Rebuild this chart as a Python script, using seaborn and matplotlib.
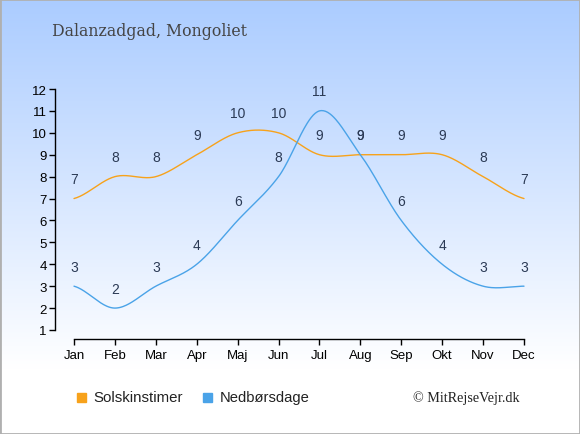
import numpy as np
import pandas as pd
import matplotlib
matplotlib.use("Agg")
import matplotlib.pyplot as plt
import seaborn as sns
from matplotlib.patches import Rectangle

months = ["Jan", "Feb", "Mar", "Apr", "Maj", "Jun", "Jul", "Aug", "Sep", "Okt", "Nov", "Dec"]
sun_hours = [7, 8, 8, 9, 10, 10, 9, 9, 9, 9, 8, 7]
rain_days = [3, 2, 3, 4, 6, 8, 11, 9, 6, 4, 3, 3]
y_ticks = list(range(1, 13))

title = "Dalanzadgad, Mongoliet"
sun_label = "Solskinstimer"
rain_label = "Nedbørsdage"
credit = "© MitRejseVejr.dk"

SUN_COLOR = "#f7a21b"
RAIN_COLOR = "#4aa3e8"
TEXT_COLOR = "#2b3a55"


def catmull_rom(y, n=40):
    y = np.asarray(y, dtype=float)
    m = len(y)
    t = np.zeros(m)
    for i in range(m):
        if i == 0:
            t[i] = (y[1] - y[0]) / 2.0
        elif i == m - 1:
            t[i] = (y[-1] - y[-2]) / 2.0
        else:
            t[i] = (y[i + 1] - y[i - 1]) / 2.0
    xs, ys = [], []
    for i in range(m - 1):
        s = np.linspace(0, 1, n, endpoint=(i == m - 2))
        h00 = 2 * s**3 - 3 * s**2 + 1
        h10 = s**3 - 2 * s**2 + s
        h01 = -2 * s**3 + 3 * s**2
        h11 = s**3 - s**2
        xs.append(i + s)
        ys.append(h00 * y[i] + h10 * t[i] + h01 * y[i + 1] + h11 * t[i + 1])
    return np.concatenate(xs), np.concatenate(ys)


sns.set_theme(style="white")
plt.rcParams["font.family"] = ["Liberation Sans", "DejaVu Sans"]

fig = plt.figure(figsize=(5.8, 4.35), dpi=100)

# background gradient
bg = fig.add_axes([0, 0, 1, 1], zorder=-10)
grad = np.linspace(0, 1, 256).reshape(-1, 1)
top = np.array([0.67, 0.80, 1.0])
bottom = np.array([1.0, 1.0, 1.0])
frac = np.clip(grad / 0.85, 0, 1)
img = top * (1 - frac) + bottom * frac
img = img.reshape(256, 1, 3)
bg.imshow(img, aspect="auto", extent=[0, 1, 0, 1], origin="upper")
bg.add_patch(Rectangle((0, 0), 1, 1, transform=bg.transAxes, fill=False,
                       edgecolor="#b0b0b0", linewidth=2))
bg.set_axis_off()

ax = fig.add_axes([55 / 580, 95 / 435, 480 / 580, 255 / 435])
ax.patch.set_alpha(0)

xs, ys = catmull_rom(sun_hours)
xr, yr = catmull_rom(rain_days)
df_sun = pd.DataFrame({"x": xs, "y": ys})
df_rain = pd.DataFrame({"x": xr, "y": yr})
sns.lineplot(data=df_sun, x="x", y="y", ax=ax, color=SUN_COLOR, linewidth=1.0, sort=False)
sns.lineplot(data=df_rain, x="x", y="y", ax=ax, color=RAIN_COLOR, linewidth=1.0, sort=False)

for i, v in enumerate(sun_hours):
    ax.annotate(str(v), (i, v), xytext=(0, 14), textcoords="offset points",
                ha="center", va="center", fontsize=10, color=TEXT_COLOR)
for i, v in enumerate(rain_days):
    ax.annotate(str(v), (i, v), xytext=(0, 14), textcoords="offset points",
                ha="center", va="center", fontsize=10, color=TEXT_COLOR)

ax.set_xlim(-19 / 40.91, 11 + 11 / 40.91)
ax.set_ylim(1 - 9 / 21.9, 12 + 5 / 21.9)
ax.set_xticks(range(12))
ax.set_xticklabels(months)
ax.set_yticks(y_ticks)
ax.set_yticklabels([str(v) for v in y_ticks])
ax.set_xlabel("")
ax.set_ylabel("")
for s in ["top", "right"]:
    ax.spines[s].set_visible(False)
ax.spines["left"].set_bounds(1, 12)
ax.spines["bottom"].set_bounds(0, 11)
for s in ["left", "bottom"]:
    ax.spines[s].set_color("black")
    ax.spines[s].set_linewidth(1.0)
ax.tick_params(axis="both", which="both", direction="out", length=4, width=1,
               colors="black", labelsize=9.5, pad=2, left=True, bottom=True)
ax.tick_params(axis="x", pad=3)
ax.grid(False)

fig.text(52 / 580, 1 - 32 / 435, title, fontsize=11.3, color="#444444",
         family=["DejaVu Serif"], ha="left", va="center")

# legend
fig.patches.append(Rectangle((77 / 580, 1 - 403 / 435), 9 / 580, 9 / 435,
                             transform=fig.transFigure, color=SUN_COLOR))
fig.text(93 / 580, 1 - 398 / 435, sun_label, fontsize=10.8, color="#222222",
         ha="left", va="center")
fig.patches.append(Rectangle((203 / 580, 1 - 403 / 435), 9 / 580, 9 / 435,
                             transform=fig.transFigure, color=RAIN_COLOR))
fig.text(220 / 580, 1 - 398 / 435, rain_label, fontsize=10.6, color="#222222",
         ha="left", va="center")
fig.text(520 / 580, 1 - 398 / 435, credit, fontsize=10.2, color="#222222",
         family=["Liberation Serif", "DejaVu Serif"], ha="right", va="center")

fig.savefig("out.png", dpi=100)
